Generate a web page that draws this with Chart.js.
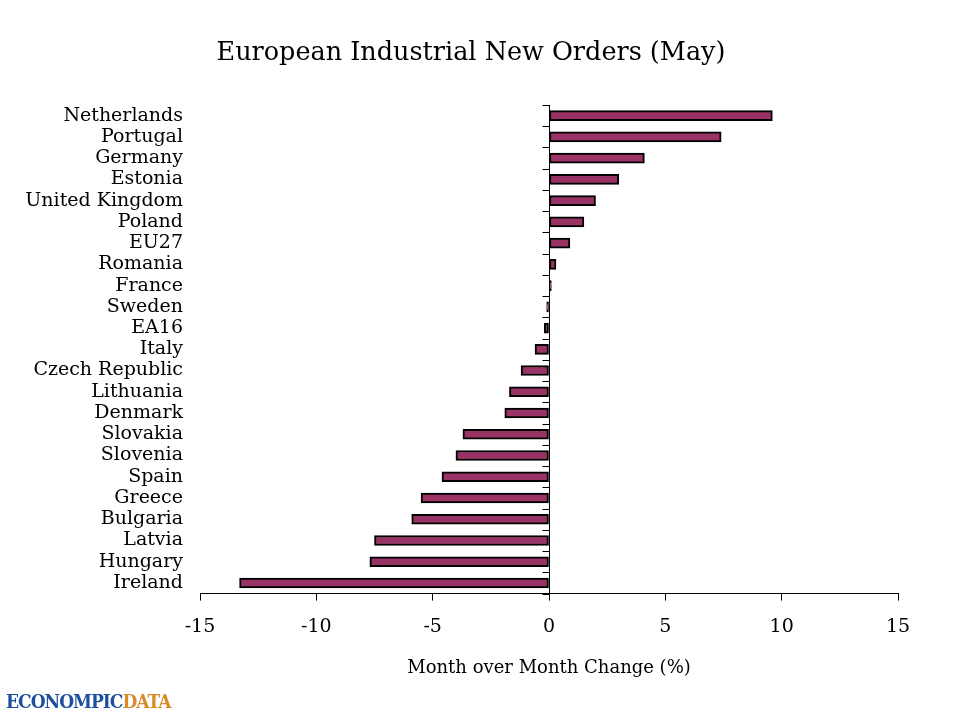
<!DOCTYPE html>
<html>
<head>
<meta charset="utf-8">
<title>European Industrial New Orders (May)</title>
<script src="https://cdn.jsdelivr.net/npm/chart.js@4.4.1/dist/chart.umd.min.js"></script>
<style>
    html, body { margin: 0; padding: 0; background: #fff; }
    #wrap { position: relative; width: 960px; height: 720px; }
    #chartTitle {
        position: absolute; left: 171px; width: 600px; top: 36px;
        text-align: center; white-space: nowrap;
        font-family: "DejaVu Serif", "Liberation Serif", serif;
        font-size: 25.5px; line-height: 30px; color: #000;
    }
    #logo {
        position: absolute; left: 6px; top: 690px;
        font-family: "DejaVu Serif Condensed", "DejaVu Serif", serif;
        font-weight: bold; font-size: 19px; letter-spacing: -1px;
    }
    #logo .blue { color: #1d4f9e; }
    #logo .orange { color: #d98a2b; }
</style>
</head>
<body>
<div id="wrap">
    <canvas id="ordersChart"></canvas>
    <div id="chartTitle">European Industrial New Orders (May)</div>
    <div id="logo"><span class="blue">ECONOMPIC</span><span class="orange">DATA</span></div>
</div>
<script>
// Countries, top to bottom
const countries = ['Netherlands', 'Portugal', 'Germany', 'Estonia', 'United Kingdom', 'Poland', 'EU27',
    'Romania', 'France', 'Sweden', 'EA16', 'Italy', 'Czech Republic', 'Lithuania', 'Denmark',
    'Slovakia', 'Slovenia', 'Spain', 'Greece', 'Bulgaria', 'Latvia', 'Hungary', 'Ireland'];

// Month over month change (%)
const momChange = [9.6, 7.4, 4.1, 3.0, 2.0, 1.5, 0.9,
    0.3, 0.1, -0.1, -0.2, -0.6, -1.2, -1.7, -1.9,
    -3.7, -4.0, -4.6, -5.5, -5.9, -7.5, -7.7, -13.3];

// x axis ticks
const xMin = -15;
const xMax = 15;
const xStep = 5;

const serif = '"DejaVu Serif", "Liberation Serif", serif';

// Vertical axis through zero, with tick marks between categories
const zeroAxis = {
    id: 'zeroAxis',
    afterDatasetsDraw(chart) {
        const { ctx, chartArea, scales } = chart;
        const x0 = Math.round(scales.x.getPixelForValue(0)) + 0.5;
        const n = countries.length;
        const step = (chartArea.bottom - chartArea.top) / n;
        ctx.save();
        ctx.strokeStyle = '#000';
        ctx.lineWidth = 1;
        ctx.beginPath();
        ctx.moveTo(x0, chartArea.top);
        ctx.lineTo(x0, chartArea.bottom);
        for (let i = 0; i <= n; i++) {
            const y = Math.round(chartArea.top + i * step) + 0.5;
            ctx.moveTo(x0 - 7, y);
            ctx.lineTo(x0, y);
        }
        ctx.stroke();
        ctx.restore();
    }
};

const ctx = document.getElementById('ordersChart').getContext('2d');
new Chart(ctx, {
    type: 'bar',
    data: {
        labels: countries,
        datasets: [{
            data: momChange,
            backgroundColor: '#993366',
            borderColor: '#000',
            borderWidth: 2,
            borderSkipped: false,
            barThickness: 10
        }]
    },
    options: {
        indexAxis: 'y',
        responsive: true,
        maintainAspectRatio: false,
        animation: false,
        layout: {
            padding: { left: 0, right: 62, top: 105, bottom: 41 }
        },
        plugins: {
            legend: { display: false },
            tooltip: { enabled: false },
            title: { display: false }
        },
        scales: {
            x: {
                min: xMin,
                max: xMax,
                ticks: {
                    stepSize: xStep,
                    color: '#000',
                    padding: 15,
                    font: { family: serif, size: 19 }
                },
                grid: {
                    drawOnChartArea: false,
                    drawTicks: true,
                    tickLength: 7,
                    color: '#000'
                },
                border: { display: true, color: '#000', width: 1 },
                title: {
                    display: true,
                    text: 'Month over Month Change (%)',
                    color: '#000',
                    font: { family: serif, size: 18 },
                    padding: { top: 4, bottom: 0 }
                }
            },
            y: {
                ticks: {
                    color: '#000',
                    padding: 9,
                    autoSkip: false,
                    font: { family: serif, size: 19 }
                },
                grid: { display: false },
                border: { display: false },
                afterFit(scale) {
                    scale.width = 200;
                }
            }
        }
    },
    plugins: [zeroAxis]
});
</script>
</body>
</html>
